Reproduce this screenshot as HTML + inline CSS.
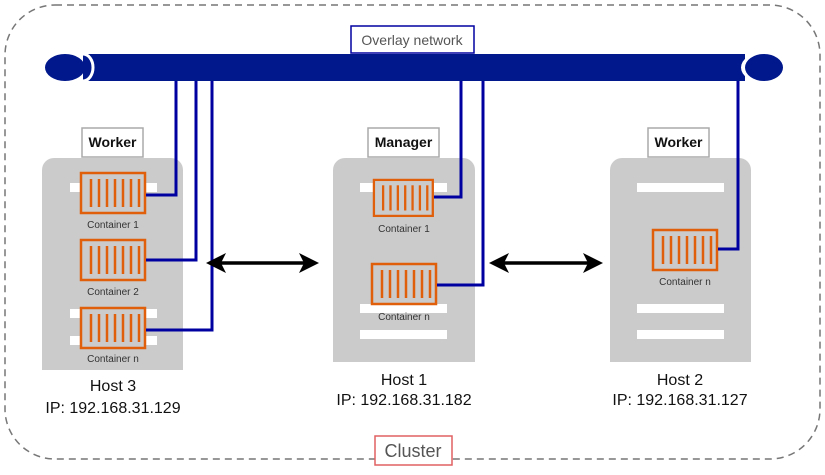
<!DOCTYPE html>
<html><head><meta charset="utf-8"><style>
body{margin:0;background:#fff;width:825px;height:470px;overflow:hidden}
text{font-family:"Liberation Sans",Arial,sans-serif}
</style></head><body>
<svg width="825" height="470" viewBox="0 0 825 470" xmlns="http://www.w3.org/2000/svg">
<defs>
<g id="ctr">
<rect x="1" y="1" width="64" height="40" fill="none" stroke="#e05f0a" stroke-width="2.5"/>
<g stroke="#e05f0a" stroke-width="2.5">
<line x1="11" y1="7" x2="11" y2="35"/><line x1="19" y1="7" x2="19" y2="35"/><line x1="27" y1="7" x2="27" y2="35"/><line x1="35" y1="7" x2="35" y2="35"/><line x1="43" y1="7" x2="43" y2="35"/><line x1="51" y1="7" x2="51" y2="35"/><line x1="59" y1="7" x2="59" y2="35"/>
</g>
</g>
</defs>
<rect x="5" y="5" width="815" height="454" rx="50" fill="none" stroke="#777" stroke-width="1.5" stroke-dasharray="7,5"/>
<path d="M42,170 a12,12 0 0 1 12,-12 h117 a12,12 0 0 1 12,12 v200 h-141z" fill="#cbcbcb"/>
<path d="M333,170 a12,12 0 0 1 12,-12 h118 a12,12 0 0 1 12,12 v192 h-142z" fill="#cbcbcb"/>
<path d="M610,170 a12,12 0 0 1 12,-12 h117 a12,12 0 0 1 12,12 v192 h-141z" fill="#cbcbcb"/>
<g fill="#fff">
<rect x="70" y="183" width="87" height="9"/>
<rect x="70" y="309" width="87" height="9"/><rect x="70" y="336" width="87" height="9"/>
<rect x="360" y="183" width="87" height="9"/><rect x="360" y="304" width="87" height="9"/><rect x="360" y="330" width="87" height="9"/>
<rect x="637" y="183" width="87" height="9"/><rect x="637" y="304" width="87" height="9"/><rect x="637" y="330" width="87" height="9"/>
</g>
<g fill="#cbcbcb">
<rect x="80" y="172" width="66" height="42"/>
<rect x="80" y="239" width="66" height="42"/>
<rect x="80" y="307" width="66" height="42"/>
<rect x="373" y="179" width="61" height="38"/>
<rect x="371" y="263" width="66" height="42"/>
<rect x="652" y="229" width="66" height="42"/>
</g>
<use href="#ctr" x="80" y="172"/>
<use href="#ctr" x="80" y="239"/>
<use href="#ctr" x="80" y="307"/>
<use href="#ctr" transform="translate(373,179) scale(0.92,0.9)"/>
<use href="#ctr" x="371" y="263"/>
<use href="#ctr" x="652" y="229"/>
<g font-size="10" fill="#333" text-anchor="middle">
<text x="113" y="228">Container 1</text>
<text x="113" y="295">Container 2</text>
<text x="113" y="362">Container n</text>
<text x="404" y="232">Container 1</text>
<text x="404" y="320">Container n</text>
<text x="685" y="285">Container n</text>
</g>
<g fill="none" stroke="#0000a0" stroke-width="3">
<polyline points="146,195 176,195 176,78"/>
<polyline points="146,260 196,260 196,78"/>
<polyline points="146,330 212,330 212,78"/>
<polyline points="434,197 461,197 461,78"/>
<polyline points="437,285 483,285 483,78"/>
<polyline points="718,249 738,249 738,78"/>
</g>
<rect x="83" y="54" width="662" height="27" fill="#00188c"/>
<path d="M83,54 a10,13.5 0 0 1 0,27" fill="none" stroke="#fff" stroke-width="3"/>
<ellipse cx="65" cy="67.5" rx="20" ry="13.5" fill="#00188c"/>
<ellipse cx="763" cy="67.5" rx="22" ry="15" fill="#fff"/>
<ellipse cx="764" cy="67.5" rx="19" ry="13.5" fill="#00188c"/>
<rect x="351" y="26" width="123" height="27" fill="#fff" stroke="#0000a0" stroke-width="1.5"/>
<text x="412" y="45" font-size="14" fill="#555" text-anchor="middle">Overlay network</text>
<g fill="#fff" stroke="#aaa" stroke-width="1.5">
<rect x="82" y="128" width="61" height="29"/>
<rect x="368" y="128" width="71" height="29"/>
<rect x="648" y="128" width="61" height="29"/>
</g>
<g font-size="14" font-weight="bold" fill="#111" text-anchor="middle">
<text x="112.5" y="147">Worker</text>
<text x="403.5" y="147">Manager</text>
<text x="678.5" y="147">Worker</text>
</g>
<g stroke="#000" stroke-width="3.5"><line x1="218" y1="263" x2="306" y2="263"/><line x1="501" y1="263" x2="590" y2="263"/></g>
<g fill="#000">
<path d="M206,263 l20,-10 l-5,10 l5,10z"/><path d="M319,263 l-20,-10 l5,10 l-5,10z"/>
<path d="M489,263 l20,-10 l-5,10 l5,10z"/><path d="M603,263 l-20,-10 l5,10 l-5,10z"/>
</g>
<g font-size="16" fill="#111" text-anchor="middle">
<text x="113" y="391">Host 3</text><text x="113" y="413">IP: 192.168.31.129</text>
<text x="404" y="385">Host 1</text><text x="404" y="405">IP: 192.168.31.182</text>
<text x="680" y="385">Host 2</text><text x="680" y="405">IP: 192.168.31.127</text>
</g>
<rect x="375" y="436" width="77" height="29" fill="#fff" stroke="#e06060" stroke-width="1.5"/>
<text x="413" y="457" font-size="18" fill="#555" text-anchor="middle">Cluster</text>
</svg>
</body></html>
